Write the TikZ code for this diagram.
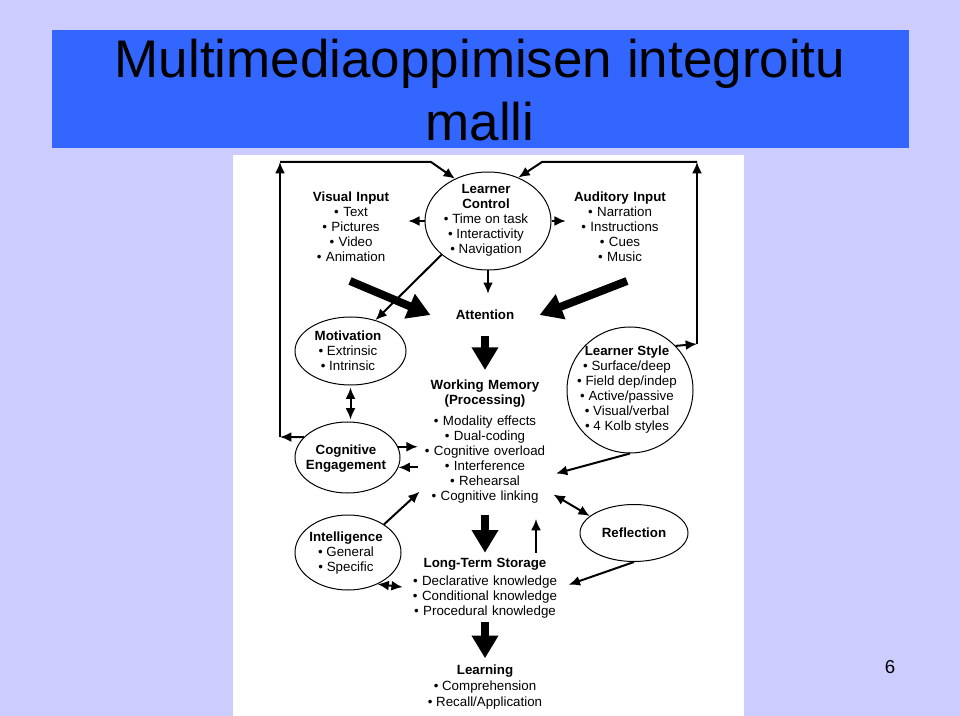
\documentclass[tikz,border=0pt]{standalone}
\usepackage{fontspec}
\setmainfont{Liberation Sans}
\usetikzlibrary{arrows.meta,shapes.geometric}
\definecolor{slidebg}{RGB}{204,204,255}
\definecolor{titleband}{RGB}{51,102,255}
\newlength{\pix}
\setlength{\pix}{0.75pt}
\newcommand{\bul}{\textbullet\ }

\begin{document}
\begin{tikzpicture}[x=0.75pt, y=-0.75pt,
    txt/.style={font=\fontsize{10}{11.25}\selectfont, align=center, inner sep=0pt},
    bubble/.style={ellipse, draw, line width=0.75pt, inner sep=0pt},
    arr/.style={line width=1.5pt, -{Latex[length=8.5pt,width=7.5pt]}},
    twoway/.style={line width=1.5pt, {Latex[length=8.5pt,width=7.5pt]}-{Latex[length=8.5pt,width=7.5pt]}},
    fat/.style={line width=6pt, -{Triangle[length=17pt,width=19pt]}}]

    % Tausta ja otsikko
    \fill[slidebg] (0,0) rectangle (960,716);
    \useasboundingbox (0,0) rectangle (960,716);
    \fill[titleband] (52,30) rectangle (909,148);
    \fill[white] (233,155) rectangle (744,716);
    \node[font=\fontsize{39.75}{47.5}\selectfont, align=center, inner sep=0pt] (title) at (480,90)
        {Multimediaoppimisen integroitu\\malli};
    \node[font=\fontsize{14}{16}\selectfont, inner sep=0pt] (page) at (890,667) {6};

    % Syotteet ja ohjaus
    \node[txt, text width=114\pix] (vi) at (351,227)
        {\textbf{Visual Input}\\\bul Text\\\bul Pictures\\\bul Video\\\bul Animation};
    \node[txt, text width=108\pix] (ai) at (620,227)
        {\textbf{Auditory Input}\\\bul Narration\\\bul Instructions\\\bul Cues\\\bul Music};
    \node[bubble, minimum width=126\pix, minimum height=98\pix] (lc) at (488,221) {};
    \node[txt] (lc-txt) at (486,220)
        {\textbf{Learner}\\\textbf{Control}\\\bul Time on task\\\bul Interactivity\\\bul Navigation};
    \node[txt, inner xsep=25\pix, inner ysep=16\pix] (att) at (485,315) {\textbf{Attention}};

    % Keskisarake
    \node[txt, text width=126\pix] (wm) at (485,442)
        {\textbf{Working Memory}\\\textbf{(Processing)}\\[6\pix]\bul Modality effects\\\bul Dual-coding\\
         \bul Cognitive overload\\\bul Interference\\\bul Rehearsal\\\bul Cognitive linking};
    \node[txt, text width=148\pix] (lts) at (485,588)
        {\textbf{Long-Term Storage}\\[3\pix]\bul Declarative knowledge\\\bul Conditional knowledge\\
         \bul Procedural knowledge};
    \node[txt] (learn) at (485,687)
        {\textbf{Learning}\\[1.5\pix]\bul Comprehension\\[1\pix]\bul Recall/Application};

    % Vasen puoli
    \node[bubble, minimum width=111\pix, minimum height=68\pix] (mot) at (350.5,351) {};
    \node[txt] (mot-txt) at (348,351) {\textbf{Motivation}\\\bul Extrinsic\\\bul Intrinsic};
    \node[bubble, minimum width=105\pix, minimum height=71\pix] (ce) at (347.5,457.5) {};
    \node[txt] (ce-txt) at (346,459) {\textbf{Cognitive}\\\textbf{Engagement}};
    \node[bubble, minimum width=106\pix, minimum height=75\pix] (int) at (348,552.5) {};
    \node[txt] (int-txt) at (346,553) {\textbf{Intelligence}\\\bul General\\\bul Specific};

    % Oikea puoli
    \node[bubble, minimum width=126\pix, minimum height=126\pix] (ls) at (630,390) {};
    \node[txt] (ls-txt) at (627,390)
        {\textbf{Learner Style}\\\bul Surface/deep\\\bul Field dep/indep\\\bul Active/passive\\
         \bul Visual/verbal\\\bul 4 Kolb styles};
    \node[bubble, minimum width=108\pix, minimum height=57\pix] (ref) at (634,533) {};
    \node[txt] (ref-txt) at (634,533) {\textbf{Reflection}};

    % Paluusilmukat
    \coordinate (loop-l) at (280,437);
    \coordinate (loop-tl) at (280,162);
    \coordinate (loop-t1) at (431,162);
    \coordinate (loop-r) at (697,344);
    \coordinate (loop-tr) at (697,162);
    \coordinate (loop-t2) at (542,162);
    \coordinate (vi-out) at (350,281);
    \coordinate (ai-out) at (627,281);

    % Paksut nuolet
    \draw[fat] (vi-out) -- (att.west);
    \draw[fat] (ai-out) -- (att.east);
    \draw[fat, shorten >=10\pix] (att.south) -- (wm.north);
    \draw[fat, shorten <=11\pix, shorten >=5\pix] (wm.south) -- (lts.north);
    \draw[fat, shorten <=4\pix, shorten >=6\pix] (lts.south) -- (learn.north);

    % Ohuet nuolet
    \draw[arr] (lc.west) -- (lc.west -| vi.east);
    \draw[arr] (lc.east) -- (lc.east -| ai.west);
    \draw[arr] (lc.south) -- (lc.south |- att.north);
    \draw[arr] (lc.216) -- (mot.51);
    \draw[twoway, shorten <=2\pix, shorten >=2\pix] (mot.south) -- (mot.south |- ce.north);
    \draw[arr, shorten >=4\pix] (ce.12) -- (ce.12 -| wm.west);
    \draw[arr, shorten <=4\pix] (ce.-11 -| wm.west) -- (ce.-11);
    \draw[arr, shorten >=3\pix] (int.38) -- (wm.217);
    \draw[twoway, shorten >=8\pix] (int.-47) -- (lts.west);
    \draw[arr, shorten >=8\pix] (ls.south) -- (wm.-28);
    \draw[twoway, shorten <=6\pix] (wm.-38) -- (ref.159);
    \draw[arr, shorten >=10\pix] (ref.south) -- (lts.east);
    \draw[arr, shorten <=5\pix, shorten >=15\pix] ([xshift=51\pix]lts.north) -- ([xshift=51\pix]wm.south);

    \draw[arr] (ce.155) -- (loop-l);
    \draw[arr] (loop-l) -- (loop-tl);
    \draw[arr] (loop-tl) -- (loop-t1) -- (lc.128);
    \draw[arr] (ls.44) -- (loop-r);
    \draw[arr] (loop-r) -- (loop-tr);
    \draw[arr] (loop-tr) -- (loop-t2) -- (lc.55);
\end{tikzpicture}
\end{document}
